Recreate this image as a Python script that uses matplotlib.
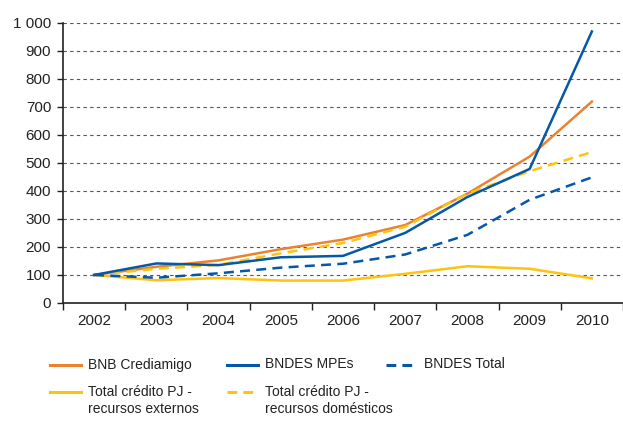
import matplotlib
matplotlib.use("Agg")
import matplotlib.pyplot as plt
from matplotlib.lines import Line2D
from matplotlib.ticker import FuncFormatter, FixedLocator

plt.rcParams['font.family'] = ['Liberation Sans', 'DejaVu Sans']

years = ['2002', '2003', '2004', '2005', '2006', '2007', '2008', '2009', '2010']
bnb_crediamigo = [100, 129, 152, 192, 226, 278, 390, 522, 718]
bndes_mpes = [100, 141, 135, 163, 168, 250, 378, 478, 968]
bndes_total = [100, 90, 106, 126, 140, 173, 243, 368, 448]
pj_externos = [100, 81, 89, 80, 80, 104, 131, 122, 88]
pj_domesticos = [100, 122, 136, 177, 214, 272, 390, 470, 538]

orange = '#EB8230'
blue = '#0558A8'
yellow = '#FFC20E'
txt = '#222222'

W, H = 623, 422
fig = plt.figure(figsize=(W / 100, H / 100), dpi=100)
ax = fig.add_axes([63 / W, 1 - 303 / H, 560 / W, (303 - 22.5) / H])

x = list(range(len(years)))
lw = 1.8
dash = (0, (4, 2.5))
l1, = ax.plot(x, bnb_crediamigo, color=orange, lw=lw)
l4, = ax.plot(x, pj_externos, color=yellow, lw=lw)
l5, = ax.plot(x, pj_domesticos, color=yellow, lw=lw, ls=dash)
l3, = ax.plot(x, bndes_total, color=blue, lw=lw, ls=dash)
l2, = ax.plot(x, bndes_mpes, color=blue, lw=lw)

ax.set_xlim(-0.5, len(years) - 0.5)
ax.set_ylim(0, 1000)
ax.set_yticks(range(0, 1001, 100))
ax.yaxis.set_major_formatter(FuncFormatter(lambda v, p: f'{int(v):,}'.replace(',', ' ')))

ax.xaxis.set_major_locator(FixedLocator([i - 0.5 for i in range(len(years) + 1)]))
ax.xaxis.set_minor_locator(FixedLocator(x))
ax.set_xticklabels([])
ax.set_xticklabels(years, minor=True)
ax.tick_params(axis='x', which='major', length=5, width=1, color=txt)
ax.tick_params(axis='x', which='minor', length=0, pad=8, labelsize=11, labelcolor=txt)
ax.tick_params(axis='y', length=4.5, width=1, color=txt, labelsize=11,
               labelcolor=txt, pad=4)

ax.yaxis.grid(True, ls=(0, (3, 3)), color='#555555', lw=0.8)
ax.set_axisbelow(True)
for s in ['top', 'right']:
    ax.spines[s].set_visible(False)
for s in ['left', 'bottom']:
    ax.spines[s].set_color(txt)
    ax.spines[s].set_linewidth(1.2)

# legend laid out by hand: row 2 handles line up with the first text line
legend_items = [
    (l1, 'BNB Crediamigo', 50, 365),
    (l2, 'BNDES MPEs', 227, 365),
    (l3, 'BNDES Total', 386, 365),
    (l4, 'Total crédito PJ -\nrecursos externos', 50, 392),
    (l5, 'Total crédito PJ -\nrecursos domésticos', 227, 392),
]
for line, label, px, py in legend_items:
    fy = 1 - py / H
    fig.add_artist(Line2D([px / W, (px + 31) / W], [fy, fy], transform=fig.transFigure,
                          color=line.get_color(), lw=2.2, ls=line.get_linestyle(),
                          dashes=(3.2, 2) if line.get_linestyle() != '-' else (None, None)))
    fig.text((px + 38) / W, 1 - (py - 7.5) / H, label, fontsize=10, color=txt,
             ha='left', va='top', linespacing=1.3)

fig.savefig('out.png', dpi=100)
